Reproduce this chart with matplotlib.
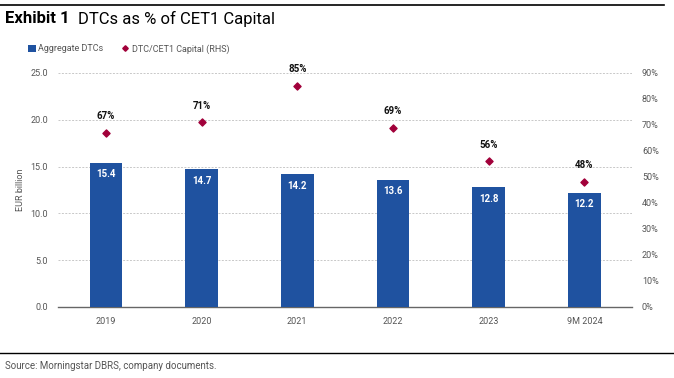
import matplotlib
matplotlib.use("Agg")
import matplotlib.pyplot as plt
from matplotlib.lines import Line2D
from matplotlib.patches import Patch

# ---------------------------------------------------------------- data
CATEGORIES = ["2019", "2020", "2021", "2022", "2023", "9M 2024"]
DTCS       = [15.4, 14.7, 14.2, 13.6, 12.8, 12.2]     # EUR billion
RATIO      = [67, 71, 85, 69, 56, 48]                 # % of CET1
LEFT_TICKS = [0, 5, 10, 15, 20, 25]
RIGHT_TICKS = list(range(0, 100, 10))

BLUE  = "#1F52A0"
RED   = "#A1003A"
GREY  = "#555555"

plt.rcParams["font.family"] = ["Roboto", "DejaVu Sans"]

fig = plt.figure(figsize=(6.74, 3.78), dpi=100)
ax = fig.add_axes([0.086, 0.188, 0.852, 0.619])
ax2 = ax.twinx()

x = list(range(len(CATEGORIES)))
ax.bar(x, DTCS, width=0.34, color=BLUE, zorder=3)
for xi, v in zip(x, DTCS):
    ax.text(xi, v - 0.7, f"{v:.1f}", ha="center", va="top", color="white",
            fontsize=7, fontweight="bold", zorder=4)

ax2.scatter(x, RATIO, marker="D", s=13, color=RED, zorder=5)
for xi, r in zip(x, RATIO):
    ax2.text(xi, r + 4.5, f"{r}%", ha="center", va="bottom", color="#111111",
             fontsize=7, fontweight="bold")

ax.set_xlim(-0.5, len(CATEGORIES) - 0.5)
ax.set_ylim(0, 25)
ax.set_yticks(LEFT_TICKS)
ax.set_yticklabels([f"{t:.1f}" for t in LEFT_TICKS])
ax.set_xticks(x)
ax.set_xticklabels(CATEGORIES)
ax2.set_ylim(0, 90)
ax2.set_yticks(RIGHT_TICKS)
ax2.set_yticklabels([f"{t}%" for t in RIGHT_TICKS])

ax.grid(axis="y", color="#C8C8C8", linestyle=(0, (2, 1.5)), linewidth=0.7, zorder=0)
ax.set_axisbelow(True)
for a in (ax, ax2):
    for s in a.spines.values():
        s.set_visible(False)
    a.tick_params(length=0, labelsize=6.5, colors=GREY, pad=7)
ax.spines["bottom"].set_visible(True)
ax.spines["bottom"].set_color("#666666")
ax.spines["bottom"].set_linewidth(1.0)
ax.set_ylabel("EUR billion", fontsize=6.5, color=GREY, labelpad=4)

# legend
handles = [Patch(facecolor=BLUE, edgecolor="none", label="Aggregate DTCs"),
           Line2D([], [], marker="D", linestyle="none", markersize=2.8,
                  color=RED, label="DTC/CET1 Capital (RHS)")]
fig.legend(handles=handles, loc="upper left", bbox_to_anchor=(0.03, 0.905),
           ncol=2, frameon=False, fontsize=6.5, handlelength=0.8,
           handleheight=0.8, handletextpad=0.3, columnspacing=2.0,
           labelcolor=GREY)

# header / footer
fig.add_artist(Line2D([0.0, 0.985], [0.987, 0.987], color="black", linewidth=1.2))
t1 = fig.text(0.008, 0.95, "Exhibit 1", fontsize=12, fontweight="bold", va="center")
fig.canvas.draw()
bb = t1.get_window_extent()
fig.text((bb.x1 + 8) / fig.bbox.width, 0.95, "DTCs as % of CET1 Capital",
         fontsize=12, va="center")
fig.add_artist(Line2D([0.0, 1.0], [0.066, 0.066], color="black", linewidth=1.0))
fig.text(0.008, 0.032, "Source: Morningstar DBRS, company documents.",
         fontsize=7, color=GREY, va="center")

fig.savefig("out.png", dpi=100)
